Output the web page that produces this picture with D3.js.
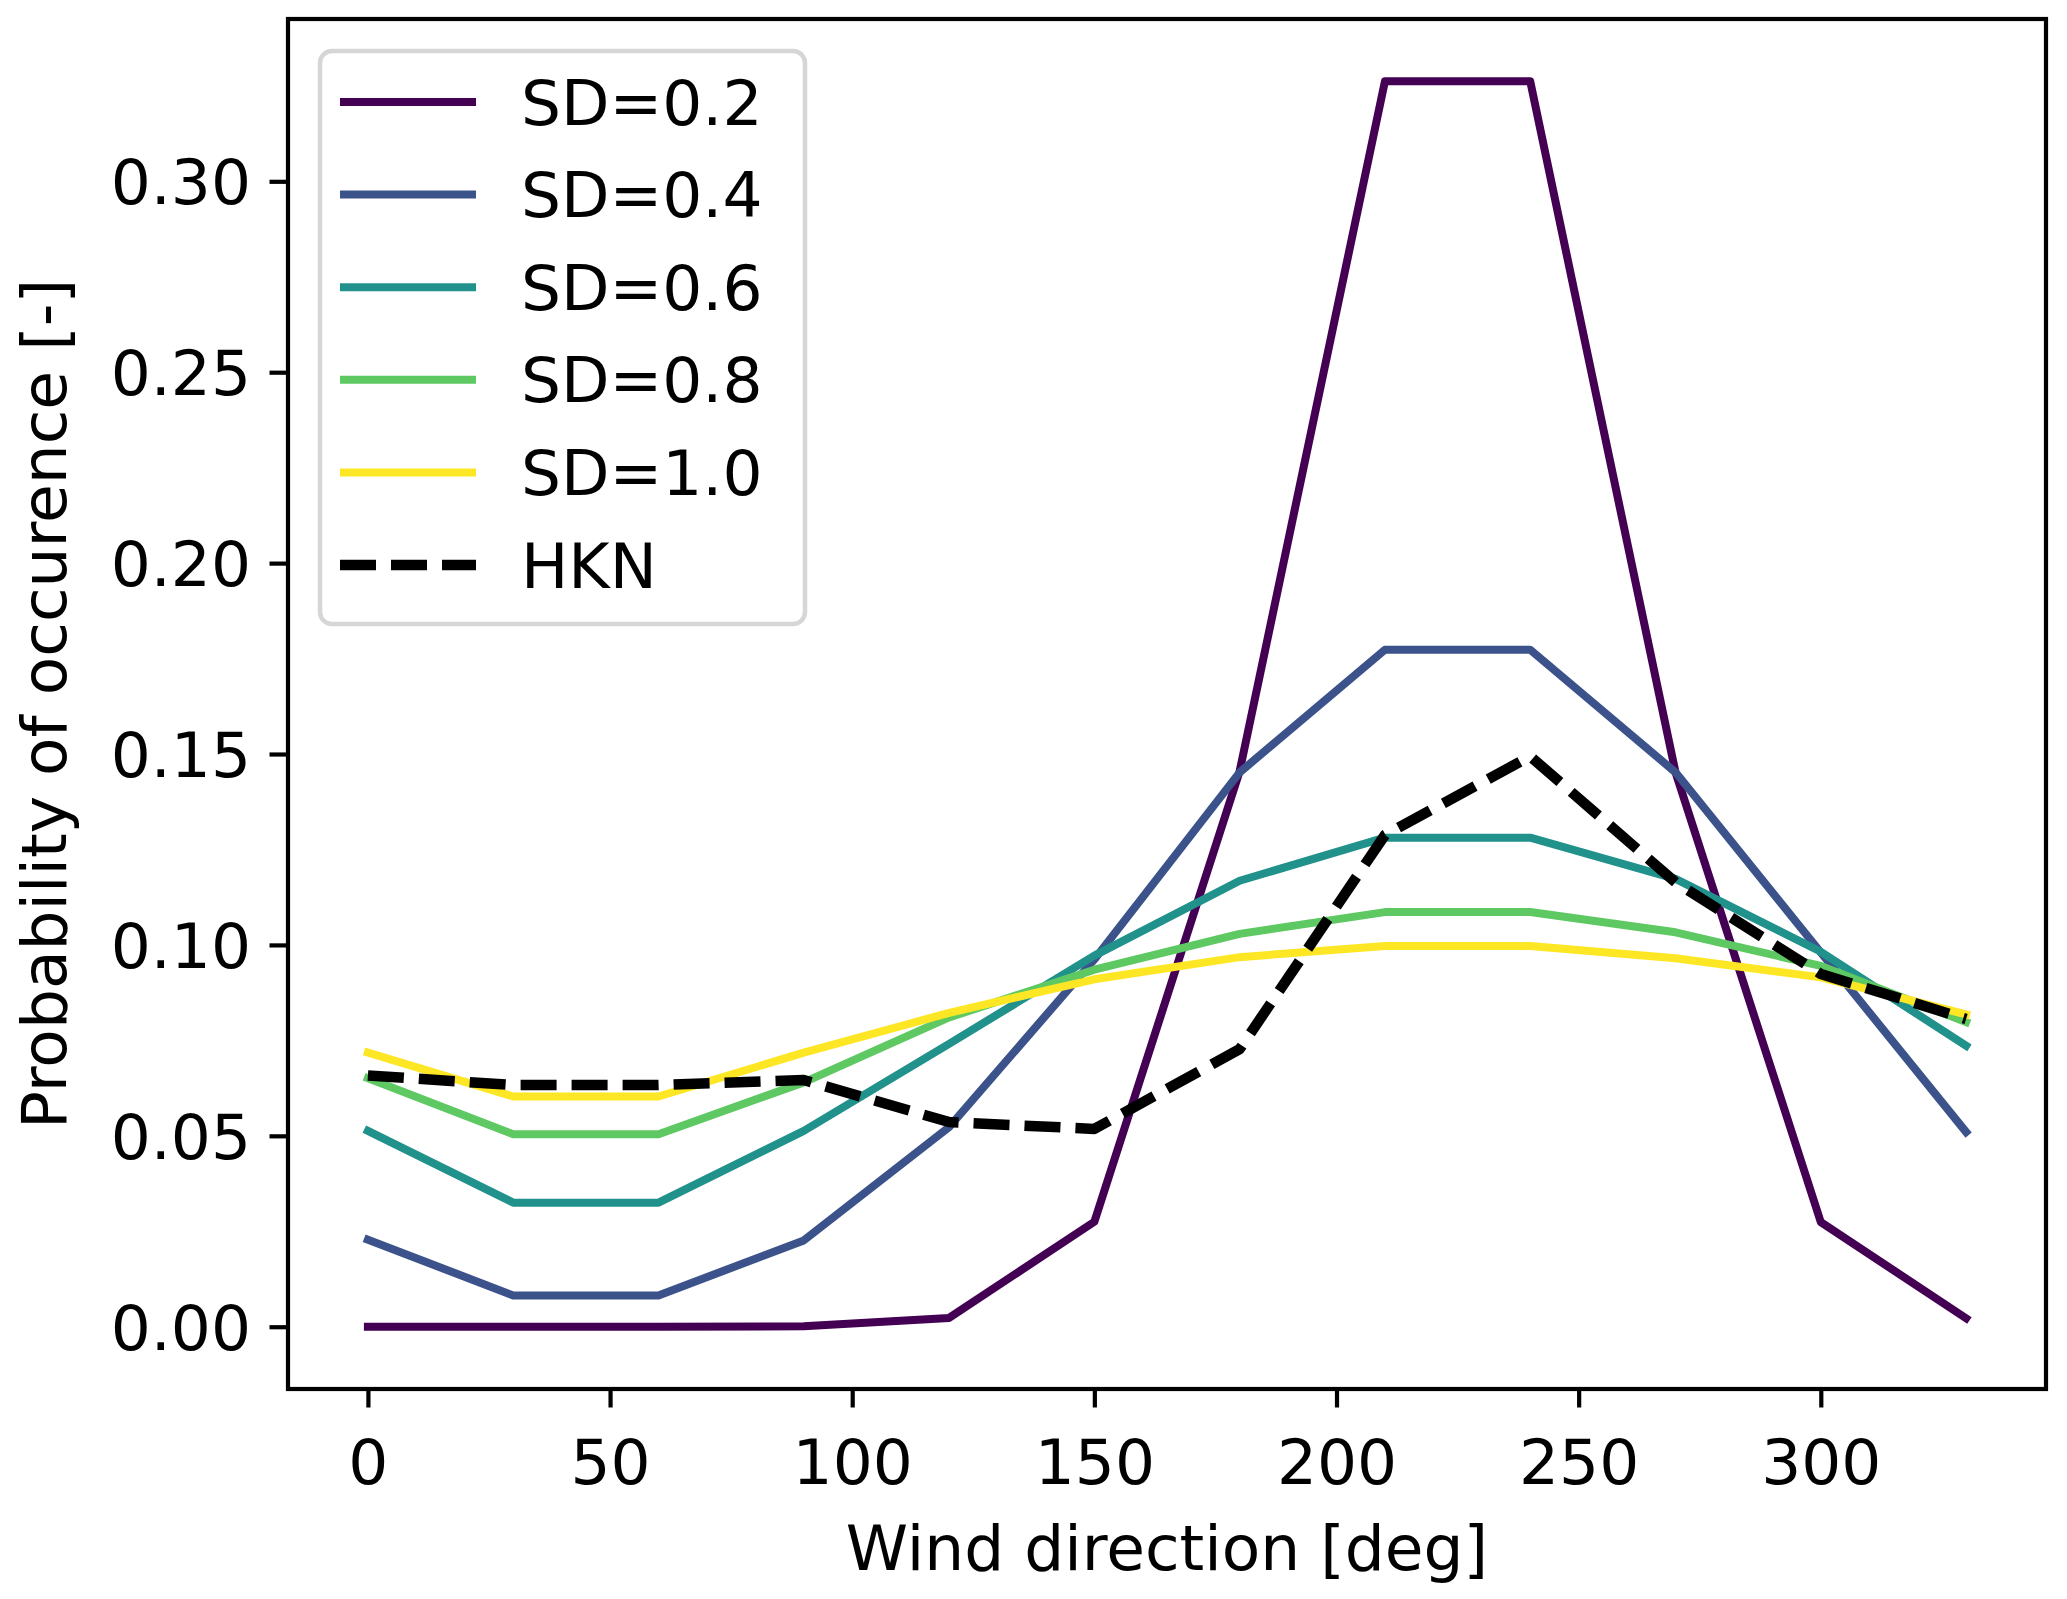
<!DOCTYPE html>
<html>
<head>
<meta charset="utf-8">
<script src="https://cdn.jsdelivr.net/npm/d3@7"></script>
<style>
  body { margin: 0; background: #ffffff; }
  text { font-family: "DejaVu Sans", sans-serif; }
</style>
</head>
<body>
<div id="chart"></div>
<script>
// Wind directions (deg) and probability of occurrence per spreading
var directions = [0, 30, 60, 90, 120, 150, 180, 210, 240, 270, 300, 330];
var sd02 = [0.0000, 0.0000, 0.0000, 0.0001, 0.0023, 0.0275, 0.1455, 0.3262, 0.3262, 0.1452, 0.0274, 0.0022];
var sd04 = [0.0228, 0.0082, 0.0082, 0.0226, 0.0523, 0.0962, 0.1452, 0.1773, 0.1773, 0.1452, 0.0980, 0.0510];
var sd06 = [0.0513, 0.0325, 0.0325, 0.0513, 0.0741, 0.0972, 0.1168, 0.1281, 0.1281, 0.1173, 0.0982, 0.0736];
var sd08 = [0.0651, 0.0504, 0.0504, 0.0640, 0.0810, 0.0935, 0.1029, 0.1086, 0.1086, 0.1033, 0.0945, 0.0798];
var sd10 = [0.0718, 0.0603, 0.0603, 0.0718, 0.0822, 0.0910, 0.0968, 0.0997, 0.0997, 0.0965, 0.0915, 0.0818];
var hkn = [0.0658, 0.0633, 0.0633, 0.0646, 0.0536, 0.0518, 0.0727, 0.1288, 0.1494, 0.1164, 0.0924, 0.0806];

var seriesNames = ["SD=0.2", "SD=0.4", "SD=0.6", "SD=0.8", "SD=1.0", "HKN"];
var seriesValues = [sd02, sd04, sd06, sd08, sd10, hkn];
var seriesColors = ["#440154", "#3b528b", "#21918c", "#5ec962", "#fde725", "#000000"];

var xTicks = [0, 50, 100, 150, 200, 250, 300];
var yTicks = [0, 0.05, 0.1, 0.15, 0.2, 0.25, 0.3];

// Chart dimensions
var margin = { top: 19, right: 21, bottom: 210, left: 288 };
var width = 2067 - margin.left - margin.right;
var height = 1599 - margin.top - margin.bottom;
var fontSize = 63;

var svg = d3
  .select("#chart")
  .append("svg")
  .attr("width", 2067)
  .attr("height", 1599)
  .append("g")
  .attr("transform", "translate(" + margin.left + "," + margin.top + ")");

// Scales with 5% padding like matplotlib
var xMin = d3.min(directions), xMax = d3.max(directions);
var xPad = (xMax - xMin) * 0.05;
var x = d3.scaleLinear().domain([xMin - xPad, xMax + xPad]).range([0, width]);

var allVals = d3.merge(seriesValues);
var yMin = d3.min(allVals), yMax = d3.max(allVals);
var yPad = (yMax - yMin) * 0.05;
var y = d3.scaleLinear().domain([yMin - yPad, yMax + yPad]).range([height, 0]);

// Axes
var xAxis = svg
  .append("g")
  .attr("transform", "translate(0," + height + ")")
  .call(d3.axisBottom(x).tickValues(xTicks).tickSize(18.5).tickSizeOuter(0).tickFormat(d3.format("d")));

var yAxis = svg
  .append("g")
  .call(d3.axisLeft(y).tickValues(yTicks).tickSize(18.5).tickPadding(18.5).tickSizeOuter(0).tickFormat(d3.format(".2f")));

[xAxis, yAxis].forEach(function (ax) {
  ax.select(".domain").remove();
  ax.selectAll(".tick line").attr("stroke", "#000").attr("stroke-width", 4.2);
  ax.selectAll(".tick text")
    .attr("fill", "#000")
    .style("font-size", fontSize + "px")
    .style("font-family", "DejaVu Sans");
});
xAxis.selectAll(".tick text").attr("y", 95).attr("dy", 0);
yAxis.selectAll(".tick text").attr("dy", "0.36em");

// Lines
var line = d3
  .line()
  .x(function (d) {
    return x(d.dir);
  })
  .y(function (d) {
    return y(d.value);
  });

seriesValues.forEach(function (vals, i) {
  var pts = directions.map(function (dir, j) {
    return { dir: dir, value: vals[j] };
  });
  var isHkn = seriesNames[i] === "HKN";
  svg
    .append("path")
    .datum(pts)
    .attr("fill", "none")
    .attr("stroke", seriesColors[i])
    .attr("stroke-width", isHkn ? 10.5 : 8)
    .attr("stroke-linejoin", "round")
    .attr("stroke-linecap", isHkn ? "butt" : "square")
    .attr("stroke-dasharray", isHkn ? "36,15" : null)
    .attr("d", line);
});

// Frame
svg
  .append("rect")
  .attr("x", 0)
  .attr("y", 0)
  .attr("width", width)
  .attr("height", height)
  .attr("fill", "none")
  .attr("stroke", "#000")
  .attr("stroke-width", 4.2);

// Axis labels
svg
  .append("text")
  .attr("x", width / 2)
  .attr("y", 1570 - margin.top)
  .attr("text-anchor", "middle")
  .style("font-size", fontSize + "px")
  .text("Wind direction [deg]");

svg
  .append("text")
  .attr("transform", "translate(" + (66 - margin.left) + "," + height / 2 + ") rotate(-90)")
  .attr("text-anchor", "middle")
  .style("font-size", fontSize + "px")
  .text("Probability of occurence [-]");

// Legend
var legend = svg.append("g").attr("transform", "translate(" + (320 - margin.left) + "," + (51 - margin.top) + ")");

legend
  .append("rect")
  .attr("width", 485)
  .attr("height", 573)
  .attr("rx", 12)
  .attr("fill", "#ffffff")
  .attr("fill-opacity", 0.8)
  .attr("stroke", "#d6d6d6")
  .attr("stroke-width", 4.5);

seriesNames.forEach(function (name, i) {
  var ry = 51 + i * 92.6;
  var isHkn = name === "HKN";
  legend
    .append("line")
    .attr("x1", 20)
    .attr("x2", 156)
    .attr("y1", ry)
    .attr("y2", ry)
    .attr("stroke", seriesColors[i])
    .attr("stroke-width", isHkn ? 10.5 : 8)
    .attr("stroke-dasharray", isHkn ? "36,15" : null);
  legend
    .append("text")
    .attr("x", 201)
    .attr("y", ry)
    .attr("dy", "0.36em")
    .style("font-size", fontSize + "px")
    .text(name);
});
</script>
</body>
</html>
